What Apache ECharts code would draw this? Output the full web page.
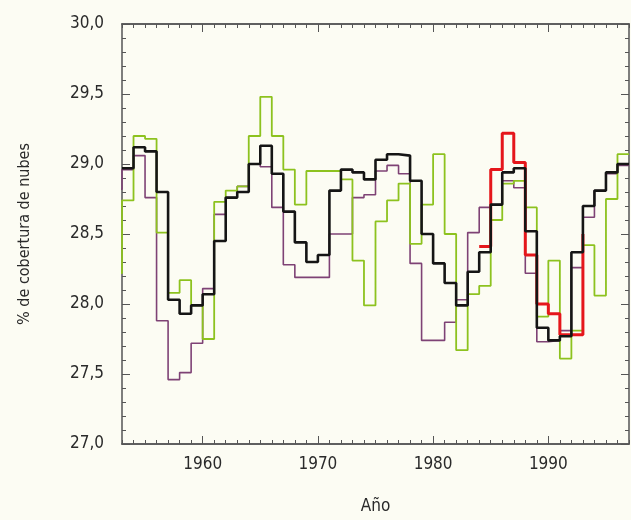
<!DOCTYPE html>
<html>
<head>
<meta charset="utf-8">
<script src="https://cdn.jsdelivr.net/npm/echarts@6/dist/echarts.min.js"></script>
<style>
  html, body { margin: 0; padding: 0; background: #fcfcf3; }
  #chart { width: 631px; height: 520px; }
</style>
</head>
<body>
<div id="chart"></div>
<script>
// years 1952..1996; each value holds for that year (step), last one ends at 1997
const years = [1952, 1953, 1954, 1955, 1956, 1957, 1958, 1959, 1960, 1961, 1962, 1963,
  1964, 1965, 1966, 1967, 1968, 1969, 1970, 1971, 1972, 1973, 1974,
  1975, 1976, 1977, 1978, 1979, 1980, 1981, 1982, 1983, 1984, 1985,
  1986, 1987, 1988, 1989, 1990, 1991, 1992, 1993, 1994, 1995, 1996];

const black = [null, 28.97, 29.12, 29.09, 28.80, 28.03, 27.93, 27.99, 28.07, 28.45, 28.76, 28.80,
  29.00, 29.13, 28.93, 28.66, 28.44, 28.30, 28.35, 28.81, 28.96, 28.94, 28.89,
  29.03, 29.07, 29.06, 28.88, 28.50, 28.29, 28.15, 27.99, 28.23, 28.37, 28.71,
  28.94, 28.97, 28.52, 27.83, 27.74, 27.77, 28.37, 28.70, 28.81, 28.94, 29.00];

const purple = [28.82, 28.96, 29.06, 28.76, 27.88, 27.46, 27.51, 27.72, 28.11, 28.64, 28.76, 28.84,
  29.00, 28.98, 28.69, 28.28, 28.19, 28.19, 28.19, 28.50, 28.50, 28.76, 28.78,
  28.95, 28.99, 28.93, 28.29, 27.74, 27.74, 27.87, 28.03, 28.51, 28.69, 28.71,
  28.88, 28.83, 28.22, 27.73, 27.74, 27.81, 28.26, 28.62, 28.81, 28.93, 28.99];

const green = [28.22, 28.74, 29.20, 29.18, 28.51, 28.08, 28.17, 27.99, 27.75, 28.73, 28.81, 28.84,
  29.20, 29.48, 29.20, 28.96, 28.71, 28.95, 28.95, 28.95, 28.89, 28.31, 27.99,
  28.59, 28.74, 28.86, 28.43, 28.71, 29.07, 28.50, 27.67, 28.07, 28.13, 28.60,
  28.86, 28.88, 28.69, 27.91, 28.31, 27.61, 27.81, 28.42, 28.06, 28.75, 29.07];

const red = [null, null, null, null, null, null, null, null, null, null, null, null,
  null, null, null, null, null, null, null, null, null, null, null,
  null, null, null, null, null, null, null, null, null, 28.41, 28.96,
  29.22, 29.01, 28.35, 28.00, 27.93, 27.78, 27.78, 28.50, null, null, null];

const decadeTicks = [1960, 1970, 1980, 1990];
const yearTicks = [1953, 1954, 1955, 1956, 1957, 1958, 1959, 1960, 1961, 1962, 1963, 1964,
  1965, 1966, 1967, 1968, 1969, 1970, 1971, 1972, 1973, 1974, 1975, 1976, 1977, 1978,
  1979, 1980, 1981, 1982, 1983, 1984, 1985, 1986, 1987, 1988, 1989, 1990, 1991, 1992,
  1993, 1994, 1995, 1996, 1997];

const font = '"DejaVu Sans Condensed", "Liberation Sans Narrow", "DejaVu Sans", sans-serif';
const axisColor = "#555";
const textColor = "#2a2a2a";

function toPairs(vals, closeEnd) {
  const out = [];
  years.forEach((y, i) => {
    if (vals[i] != null) out.push([y, vals[i]]);
  });
  if (closeEnd) {
    const last = out[out.length - 1];
    out.push([last[0] + 1, last[1]]);
  }
  return out;
}

function xAxisOf(pos, ticks, len, withLabel) {
  return {
    type: "value",
    position: pos,
    min: 1953,
    max: 1997,
    axisLine: { show: true, onZero: false, lineStyle: { color: axisColor, width: 1.5 } },
    axisTick: { show: true, inside: true, length: len, customValues: ticks, lineStyle: { color: axisColor } },
    axisLabel: withLabel
      ? {
          show: true,
          customValues: decadeTicks,
          color: textColor,
          fontSize: 17,
          fontFamily: font,
          margin: 12,
          formatter: (v) => String(v),
        }
      : { show: false },
    splitLine: { show: false },
  };
}

function yAxisOf(pos, withLabel) {
  return {
    type: "value",
    position: pos,
    min: 27,
    max: 30,
    interval: 0.5,
    axisLine: { show: true, lineStyle: { color: axisColor, width: 1.5 } },
    axisTick: { show: true, inside: true, length: 8, lineStyle: { color: axisColor } },
    minorTick: { show: true, splitNumber: 5, length: 4, lineStyle: { color: axisColor } },
    axisLabel: withLabel
      ? {
          show: true,
          color: textColor,
          fontSize: 17,
          fontFamily: font,
          margin: 18,
          formatter: (v) => v.toFixed(1).replace(".", ","),
        }
      : { show: false },
    splitLine: { show: false },
    name: withLabel ? "% de cobertura de nubes" : "",
    nameLocation: "middle",
    nameGap: 89,
    nameTextStyle: { color: textColor, fontSize: 16, fontFamily: font },
  };
}

const chart = echarts.init(document.getElementById("chart"));
chart.setOption({
  backgroundColor: "#fcfcf3",
  animation: false,
  grid: { left: 122, right: 2, top: 24, bottom: 74 },
  xAxis: [
    Object.assign(xAxisOf("bottom", decadeTicks, 8, true), {
      name: "Año",
      nameLocation: "middle",
      nameGap: 54,
      nameTextStyle: { color: textColor, fontSize: 17, fontFamily: font },
    }),
    xAxisOf("bottom", yearTicks, 4, false),
    xAxisOf("top", decadeTicks, 8, false),
    xAxisOf("top", yearTicks, 4, false),
  ],
  yAxis: [yAxisOf("left", true), yAxisOf("right", false)],
  series: [
    { name: "purple", data: toPairs(purple, true), color: "#7e4275", width: 1.6 },
    { name: "green", data: toPairs(green, true), color: "#8dc21f", width: 1.8 },
    { name: "red", data: toPairs(red, false), color: "#e5161b", width: 3 },
    { name: "black", data: toPairs(black, true), color: "#151515", width: 2.6 },
  ].map((s) => ({
    name: s.name,
    type: "line",
    step: "end",
    data: s.data,
    showSymbol: false,
    clip: true,
    lineStyle: { color: s.color, width: s.width },
    itemStyle: { color: s.color },
  })),
});
</script>
</body>
</html>
